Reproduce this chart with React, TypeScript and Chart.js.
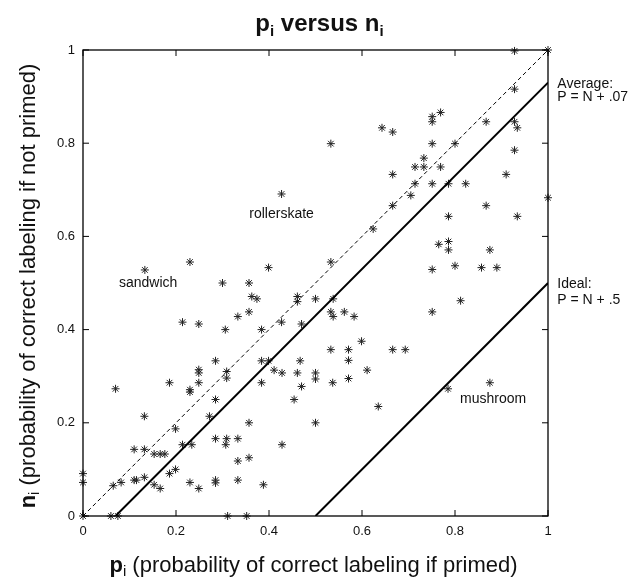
import React, { useEffect, useRef } from "react";
import { Chart, registerables } from "chart.js";

Chart.register(...registerables);

// ---- data ----
const primedProb: number[] = [
  0.427, 0.133, 0.23, 0.399, 0.928, 1.0, 0.928, 0.769, 0.751, 0.751, 0.867, 0.928, 0.934, 0.643, 0.666,
  0.533, 0.751, 0.8, 0.928, 0.733, 0.714, 0.733, 0.769, 0.666, 0.91, 0.714, 0.751, 0.786, 0.823, 0.705,
  0.666, 0.867, 1.0, 0.786, 0.934, 0.624, 0.765, 0.786, 0.786, 0.875, 0.533, 0.751, 0.8, 0.857, 0.89,
  0.3, 0.357, 0.363, 0.374, 0.461, 0.461, 0.5, 0.357, 0.333, 0.214, 0.249, 0.427, 0.47, 0.306, 0.384,
  0.285, 0.384, 0.399, 0.467, 0.249, 0.249, 0.309, 0.309, 0.411, 0.428, 0.461, 0.5, 0.5, 0.186, 0.249,
  0.384, 0.47, 0.07, 0.23, 0.23, 0.285, 0.454, 0.272, 0.132, 0.357, 0.5, 0.199, 0.285, 0.309, 0.333,
  0.307, 0.214, 0.234, 0.428, 0.11, 0.132, 0.153, 0.166, 0.176, 0.333, 0.357, 0.199, 0.186, 0.11, 0.115,
  0.132, 0.153, 0.166, 0.23, 0.249, 0.285, 0.285, 0.333, 0.388, 0.065, 0.082, 0.0, 0.0, 0.0, 0.06,
  0.075, 0.311, 0.352, 0.538, 0.812, 0.533, 0.538, 0.562, 0.583, 0.751, 0.599, 0.533, 0.571, 0.666, 0.693,
  0.571, 0.611, 0.537, 0.571, 0.635, 0.785, 0.875,
];
const unprimedProb: number[] = [
  0.691, 0.528, 0.545, 0.533, 0.998, 1.0, 0.916, 0.866, 0.857, 0.846, 0.846, 0.846, 0.833, 0.833, 0.824,
  0.799, 0.799, 0.799, 0.785, 0.768, 0.749, 0.749, 0.749, 0.733, 0.733, 0.713, 0.713, 0.713, 0.713, 0.688,
  0.666, 0.666, 0.683, 0.643, 0.643, 0.616, 0.583, 0.589, 0.571, 0.571, 0.545, 0.529, 0.537, 0.533, 0.533,
  0.5, 0.5, 0.471, 0.466, 0.471, 0.46, 0.466, 0.438, 0.428, 0.416, 0.412, 0.416, 0.412, 0.4, 0.4,
  0.333, 0.333, 0.333, 0.333, 0.314, 0.307, 0.31, 0.296, 0.313, 0.307, 0.307, 0.307, 0.294, 0.286, 0.286,
  0.286, 0.278, 0.273, 0.271, 0.266, 0.25, 0.25, 0.214, 0.214, 0.2, 0.2, 0.187, 0.166, 0.166, 0.166,
  0.153, 0.153, 0.153, 0.153, 0.143, 0.143, 0.133, 0.133, 0.133, 0.118, 0.125, 0.1, 0.091, 0.077, 0.077,
  0.083, 0.067, 0.059, 0.072, 0.059, 0.077, 0.071, 0.077, 0.067, 0.065, 0.072, 0.091, 0.072, 0.0, 0.0,
  0.0, 0.0, 0.0, 0.466, 0.462, 0.438, 0.428, 0.438, 0.428, 0.438, 0.375, 0.357, 0.357, 0.357, 0.357,
  0.334, 0.313, 0.286, 0.295, 0.235, 0.273, 0.286,
];

// reference lines (endpoints)
const equalLineX = [0, 1];
const equalLineY = [0, 1];
const averageLineX = [0.07, 1];
const averageLineY = [0, 0.93];
const idealLineX = [0.5, 1];
const idealLineY = [0, 0.5];

const tickValues = [0, 0.2, 0.4, 0.6, 0.8, 1];

// annotation labels
const labelTexts = ["rollerskate", "sandwich", "mushroom"];
const labelX = [0.427, 0.14, 0.882];
const labelY = [0.648, 0.5, 0.25];
const sideTexts = ["Average:", "P = N + .07", "Ideal:", "P = N + .5"];
const sideY = [0.927, 0.898, 0.498, 0.464];
const sideX = 1.02;

const FAM = '"Liberation Sans", Arial, Helvetica, sans-serif';
const INK = "#111";

type Part = { t: string; f: string; dy?: number };

function drawRich(ctx: CanvasRenderingContext2D, parts: Part[], cx: number, y: number) {
  let total = 0;
  const widths = parts.map((p) => {
    ctx.font = p.f;
    const w = ctx.measureText(p.t).width;
    total += w;
    return w;
  });
  let x = cx - total / 2;
  ctx.textAlign = "left";
  ctx.textBaseline = "alphabetic";
  parts.forEach((p, i) => {
    ctx.font = p.f;
    ctx.fillText(p.t, x, y + (p.dy || 0));
    x += widths[i];
  });
}

const decorPlugin = {
  id: "decor",
  afterDatasetsDraw(chart: any) {
    const { ctx, chartArea } = chart;
    const xs = chart.scales.x;
    const ys = chart.scales.y;
    ctx.save();
    ctx.strokeStyle = "#000";
    ctx.lineWidth = 1.3;
    ctx.strokeRect(chartArea.left, chartArea.top, chartArea.right - chartArea.left, chartArea.bottom - chartArea.top);
    ctx.lineWidth = 1;
    const L = 6;
    ctx.beginPath();
    tickValues.forEach((v) => {
      const px = xs.getPixelForValue(v);
      ctx.moveTo(px, chartArea.bottom);
      ctx.lineTo(px, chartArea.bottom - L);
      ctx.moveTo(px, chartArea.top);
      ctx.lineTo(px, chartArea.top + L);
      const py = ys.getPixelForValue(v);
      ctx.moveTo(chartArea.left, py);
      ctx.lineTo(chartArea.left + L, py);
      ctx.moveTo(chartArea.right, py);
      ctx.lineTo(chartArea.right - L, py);
    });
    ctx.stroke();
    ctx.restore();
  },
  afterDraw(chart: any) {
    const { ctx, chartArea, width } = chart;
    const xs = chart.scales.x;
    const ys = chart.scales.y;
    ctx.save();
    ctx.fillStyle = INK;
    // main title
    drawRich(
      ctx,
      [
        { t: "p", f: `bold 24px ${FAM}` },
        { t: "i", f: `bold 15px ${FAM}`, dy: 5 },
        { t: " versus ", f: `bold 24px ${FAM}` },
        { t: "n", f: `bold 24px ${FAM}` },
        { t: "i", f: `bold 15px ${FAM}`, dy: 5 },
      ],
      width / 2,
      31
    );
    // x axis title
    drawRich(
      ctx,
      [
        { t: "p", f: `bold 22px ${FAM}` },
        { t: "i", f: `15px ${FAM}`, dy: 4 },
        { t: " (probability of correct labeling if primed)", f: `22px ${FAM}` },
      ],
      (chartArea.left + chartArea.right) / 2 - 2,
      572
    );
    // y axis title
    ctx.save();
    ctx.translate(35, (chartArea.top + chartArea.bottom) / 2 + 3);
    ctx.rotate(-Math.PI / 2);
    drawRich(
      ctx,
      [
        { t: "n", f: `bold 22px ${FAM}` },
        { t: "i", f: `15px ${FAM}`, dy: 4 },
        { t: " (probability of correct labeling if not primed)", f: `22px ${FAM}` },
      ],
      0,
      0
    );
    ctx.restore();
    // point labels
    ctx.font = `14px ${FAM}`;
    ctx.textAlign = "center";
    ctx.textBaseline = "middle";
    labelTexts.forEach((t, i) => {
      ctx.fillText(t, xs.getPixelForValue(labelX[i]), ys.getPixelForValue(labelY[i]));
    });
    ctx.textAlign = "left";
    sideTexts.forEach((t, i) => {
      ctx.fillText(t, xs.getPixelForValue(sideX), ys.getPixelForValue(sideY[i]));
    });
    ctx.restore();
  },
};

const pts = (xs: number[], ys: number[]) => xs.map((x, i) => ({ x, y: ys[i] }));
const fmtTick = (v: any) => String(Math.round(Number(v) * 10) / 10);

export default function App() {
  const ref = useRef<HTMLCanvasElement>(null);
  useEffect(() => {
    if (!ref.current) return;
    const chart = new Chart(ref.current, {
      type: "scatter",
      data: {
        datasets: [
          {
            label: "equal",
            data: pts(equalLineX, equalLineY),
            showLine: true,
            borderColor: "#000",
            borderWidth: 1,
            borderDash: [4, 3],
            pointRadius: 0,
          },
          {
            label: "average",
            data: pts(averageLineX, averageLineY),
            showLine: true,
            borderColor: "#000",
            borderWidth: 2,
            pointRadius: 0,
          },
          {
            label: "ideal",
            data: pts(idealLineX, idealLineY),
            showLine: true,
            borderColor: "#000",
            borderWidth: 2,
            pointRadius: 0,
          },
          {
            label: "items",
            data: pts(primedProb, unprimedProb),
            pointStyle: "star",
            pointRadius: 4,
            pointBorderWidth: 1,
            borderColor: "#222",
            backgroundColor: "#222",
            clip: false as any,
          },
        ],
      },
      options: {
        animation: false,
        responsive: true,
        maintainAspectRatio: false,
        layout: { padding: { left: 0, right: 91, top: 50, bottom: 0 } },
        plugins: { legend: { display: false }, tooltip: { enabled: false }, title: { display: false } },
        scales: {
          x: {
            type: "linear",
            min: 0,
            max: 1,
            grid: { display: false, drawTicks: false },
            border: { display: false },
            ticks: {
              stepSize: 0.2,
              padding: 8,
              color: INK,
              font: { family: FAM, size: 13 },
              maxRotation: 0,
              callback: fmtTick,
            },
            afterFit: (s: any) => {
              s.height = 62;
            },
          },
          y: {
            type: "linear",
            min: 0,
            max: 1,
            grid: { display: false, drawTicks: false },
            border: { display: false },
            ticks: {
              stepSize: 0.2,
              padding: 8,
              color: INK,
              font: { family: FAM, size: 13 },
              callback: fmtTick,
            },
            afterFit: (s: any) => {
              s.width = 83;
            },
          },
        },
      },
      plugins: [decorPlugin],
    });
    return () => chart.destroy();
  }, []);
  return (
    <div style={{ position: "fixed", left: 0, top: 0, width: 639, height: 578, background: "#fff" }}>
      <canvas ref={ref} />
    </div>
  );
}
